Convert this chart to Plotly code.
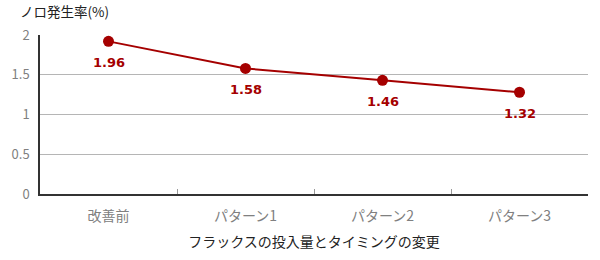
import plotly.graph_objects as go

categories = ["改善前", "パターン1", "パターン2", "パターン3"]
values = [1.92, 1.58, 1.43, 1.28]
label_texts = ["1.96", "1.58", "1.46", "1.32"]
y_ticks = [0, 0.5, 1, 1.5, 2]
y_tick_labels = ["0", "0.5", "1", "1.5", "2"]

FONT = "Noto Sans CJK JP"
RED = "#a50000"

fig = go.Figure()
fig.add_trace(go.Scatter(
    x=categories, y=values, mode="lines+markers",
    line=dict(color=RED, width=2),
    marker=dict(color=RED, size=11),
    cliponaxis=False, hoverinfo="skip",
))

for c, v, t in zip(categories, values, label_texts):
    fig.add_annotation(x=c, y=v, text="<b>" + t + "</b>", showarrow=False,
                       yshift=-21, font=dict(family="DejaVu Sans", size=13, color=RED))

fig.add_annotation(text="ノロ発生率(%)", xref="paper", yref="paper",
                   x=-0.04, y=1.0, yshift=24, xanchor="left", yanchor="middle",
                   showarrow=False, font=dict(family=FONT, size=13.5, color="#222"))

fig.update_layout(
    width=600, height=260,
    margin=dict(l=37, r=12, t=35, b=65),
    paper_bgcolor="white", plot_bgcolor="white",
    showlegend=False,
    font=dict(family=FONT),
    xaxis=dict(
        type="category", showline=True, linecolor="#333", linewidth=1.5,
        ticks="inside", tickson="boundaries", ticklen=5, tickcolor="#999",
        showgrid=False, tickfont=dict(family=FONT, size=14, color="#808080"),
        ticklabelstandoff=8,
        title=dict(text="フラックスの投入量とタイミングの変更",
                   font=dict(family=FONT, size=14, color="#222"), standoff=14),
        range=[-0.5, 3.5],
    ),
    yaxis=dict(
        range=[0, 2], tickvals=y_ticks, ticktext=y_tick_labels,
        showline=True, linecolor="#333", linewidth=1.5,
        showgrid=True, gridcolor="#b5b5b5", gridwidth=1,
        zeroline=False, ticks="", ticklabelstandoff=6,
        tickfont=dict(family=FONT, size=13, color="#808080"),
    ),
)

fig.write_html("out.html")
